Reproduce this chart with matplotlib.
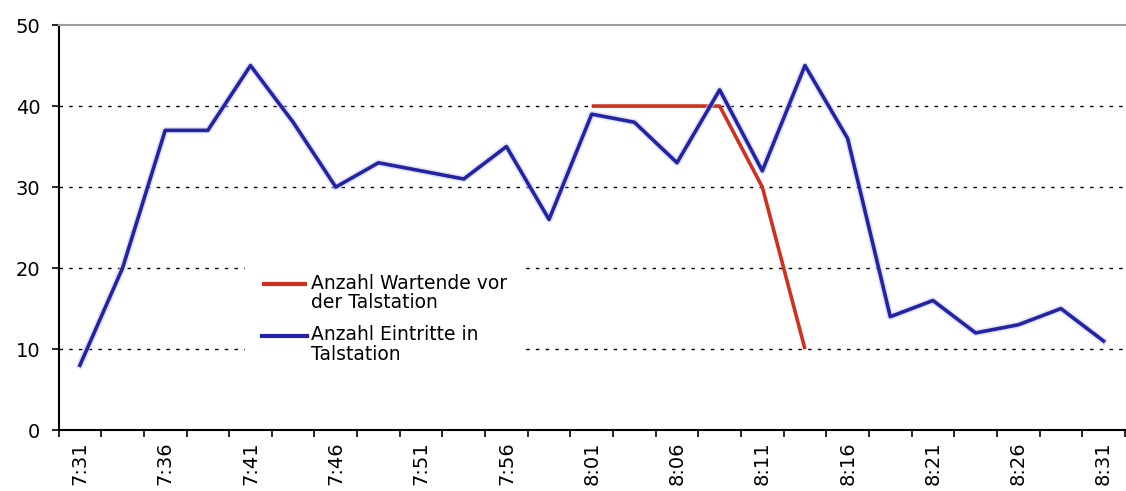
import matplotlib
matplotlib.use('Agg')
import matplotlib.pyplot as plt
import matplotlib.patheffects as pe
from matplotlib.legend_handler import HandlerLine2D
import numpy as np

# samples every 2.5 minutes, labelled every 5 minutes
time_labels = ['7:31', '7:36', '7:41', '7:46', '7:51', '7:56', '8:01',
               '8:06', '8:11', '8:16', '8:21', '8:26', '8:31']
eintritte = [8, 20, 37, 37, 45, 38, 30, 33, 32, 31, 35, 26, 39,
             38, 33, 42, 32, 45, 36, 14, 16, 12, 13, 15, 11]
wartende = [None] * 12 + [40, 40, 40, 40, 30, 10] + [None] * 7

RED = '#d0301e'
BLUE = '#2323a6'


class FirstLineHandler(HandlerLine2D):
    # put the legend line next to the first line of a two-line label
    def create_artists(self, legend, orig_handle, xdescent, ydescent,
                       width, height, fontsize, trans):
        return super().create_artists(legend, orig_handle, xdescent,
                                      ydescent - 1.5 * height, width, height,
                                      fontsize, trans)


n = len(eintritte)
x = np.arange(n)
warte = np.array([np.nan if v is None else v for v in wartende], dtype=float)

fig = plt.figure(figsize=(11.26, 4.91), dpi=100)
ax = fig.add_axes([0.052, 0.124, 0.947, 0.825])

ax.plot(x, warte, color=RED, lw=2.6, solid_capstyle='butt',
        label='Anzahl Wartende vor\nder Talstation', zorder=3)
ax.plot(x, eintritte, color=BLUE, lw=2.6,
        path_effects=[pe.Stroke(linewidth=5, foreground='#c8c8f0', alpha=0.5), pe.Normal()],
        label='Anzahl Eintritte in\nTalstation', zorder=4)

ax.set_xlim(-0.5, n - 0.5)
ax.set_ylim(0, 50)
ax.set_yticks(range(0, 51, 10))
for v in range(10, 50, 10):
    ax.axhline(v, color='black', lw=1.0, ls=(0, (2.5, 4.5)), zorder=1)

ax.set_xticks(x[::2])
ax.set_xticklabels(time_labels, rotation=90)
ax.set_xticks(np.arange(n + 1) - 0.5, minor=True)
ax.tick_params(axis='x', which='major', length=0, pad=8, labelsize=14)
ax.tick_params(axis='x', which='minor', length=5, width=1.2, direction='out')
ax.tick_params(axis='y', length=5, width=1.2, labelsize=14, pad=8)

for s in ['left', 'bottom']:
    ax.spines[s].set_linewidth(1.5)
ax.spines['top'].set_color('#a0a0a0')
ax.spines['top'].set_linewidth(1.5)
ax.spines['right'].set_visible(False)

leg = ax.legend(loc='upper left', bbox_to_anchor=(0.175, 0.428), frameon=True,
                fontsize=13.5, handlelength=2.4, handletextpad=0.2,
                labelspacing=0.7, borderpad=0.9, borderaxespad=0,
                fancybox=False,
                handler_map={plt.Line2D: FirstLineHandler()})
leg.get_frame().set_edgecolor('none')
leg.get_frame().set_facecolor('white')
leg.get_frame().set_alpha(1.0)
leg.set_zorder(2)
for t in leg.get_texts():
    t.set_linespacing(1.05)
for line in leg.get_lines():
    line.set_path_effects([])
    line.set_linewidth(3)

fig.savefig('out.png', dpi=100)
